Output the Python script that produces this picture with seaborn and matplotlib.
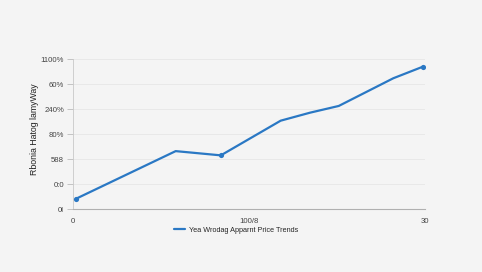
import matplotlib
matplotlib.use("Agg")
import matplotlib.pyplot as plt
import seaborn as sns
import pandas as pd
from matplotlib.lines import Line2D

# Data
x_vals = [0.25, 8.75, 12.6, 17.7, 20.2, 22.65, 27.3, 29.8]
y_vals = [0.41, 2.32, 2.15, 3.54, 3.86, 4.13, 5.24, 5.70]
marker_flags = [True, False, True, False, False, False, False, True]

y_ticks = [0, 1, 2, 3, 4, 5, 6]
y_tick_labels = ["0l", "0:0", "588", "80%", "240%", "60%", "1100%"]
x_ticks = [0, 15, 30]
x_tick_labels = ["0", "100/8", "30"]

y_label = "Rbonia Hatog lamyWay"
legend_label = "Yea Wrodag Apparnt Price Trends"

bg = "#f4f4f4"
blue = "#2a78c4"

sns.set_theme(style="whitegrid")
plt.rcParams['font.family'] = ['Liberation Sans', 'DejaVu Sans']

fig = plt.figure(figsize=(4.82, 2.72), dpi=100, facecolor=bg)
ax = fig.add_axes([0.1515, 0.2316, 0.7302, 0.5504])
ax.set_facecolor(bg)

df = pd.DataFrame({"x": x_vals, "y": y_vals, "m": marker_flags})
sns.lineplot(data=df, x="x", y="y", ax=ax, color=blue, linewidth=1.6, legend=False)
sns.scatterplot(data=df[df["m"]], x="x", y="y", ax=ax, color=blue, s=14,
                edgecolor=blue, linewidth=0, legend=False, zorder=5)

ax.set_xlim(0, 30)
ax.set_ylim(0, 6)
ax.set_yticks(y_ticks)
ax.set_yticklabels(y_tick_labels)
ax.set_xticks(x_ticks)
ax.set_xticklabels(x_tick_labels)
ax.tick_params(axis="both", labelsize=5.6, colors="#444444", length=4, width=0.5,
               pad=2.5, left=True, bottom=False)
ax.tick_params(axis="y", color="#b0b0b0")
ax.grid(axis="y", color="#e6e6e6", linewidth=0.6)
ax.grid(axis="x", visible=False)

for s in ["top", "right"]:
    ax.spines[s].set_visible(False)
ax.spines["left"].set_color("#c8c8c8")
ax.spines["left"].set_linewidth(0.6)
ax.spines["bottom"].set_color("#b0b0b0")
ax.spines["bottom"].set_linewidth(0.8)

ax.set_xlabel("")
ax.set_ylabel(y_label, fontsize=6.3, color="#222222", labelpad=6)
ax.yaxis.set_label_coords(-0.098, 0.53)

handle = Line2D([0], [0], color=blue, linewidth=1.6)
fig.legend([handle], [legend_label], loc="center", bbox_to_anchor=(0.49, 0.153),
           frameon=False, fontsize=5.2, handlelength=1.5, handletextpad=0.5)

fig.savefig("out.png", dpi=100, facecolor=bg)
